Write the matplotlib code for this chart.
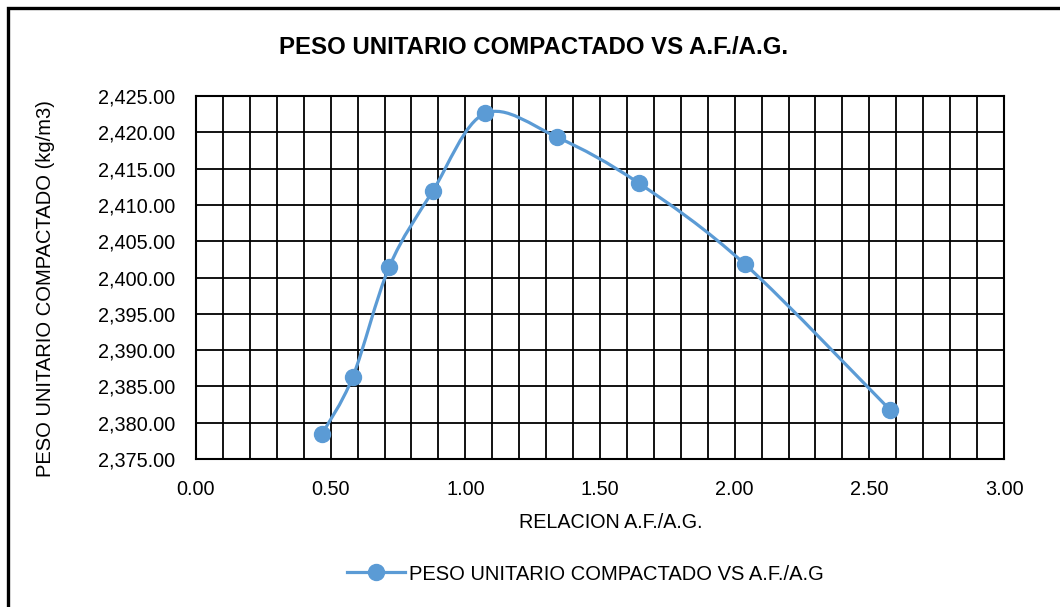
import matplotlib

matplotlib.use("Agg")
import matplotlib.pyplot as plt
from matplotlib.lines import Line2D
from matplotlib.patches import PathPatch, Rectangle
from matplotlib.path import Path
from matplotlib.ticker import FuncFormatter, MultipleLocator
import numpy as np

# ratio of fine to coarse aggregate and compacted unit weight
relacion = [0.467, 0.582, 0.718, 0.879, 1.073, 1.342, 1.644, 2.039, 2.576]
peso_unitario = [2378.4, 2386.3, 2401.5, 2411.9, 2422.6, 2419.3, 2413.0, 2401.8, 2381.8]

title = "PESO UNITARIO COMPACTADO VS A.F./A.G."
xlabel = "RELACION A.F./A.G."
ylabel = "PESO UNITARIO COMPACTADO (kg/m3)"
series_label = "PESO UNITARIO COMPACTADO VS A.F./A.G"

BLUE = "#5B9BD5"
plt.rcParams["font.family"] = ["Liberation Sans", "DejaVu Sans"]


def smooth_path(xs, ys):
    # Excel-style smoothed line: cubic Bezier segments with Catmull-Rom handles
    pts = np.column_stack([xs, ys])
    n = len(pts)
    verts = [pts[0]]
    codes = [Path.MOVETO]
    for i in range(n - 1):
        p_prev = pts[i - 1] if i > 0 else pts[i]
        p_next2 = pts[i + 2] if i + 2 < n else pts[i + 1]
        c1 = pts[i] + (pts[i + 1] - p_prev) / 6.0
        c2 = pts[i + 1] - (p_next2 - pts[i]) / 6.0
        verts += [c1, c2, pts[i + 1]]
        codes += [Path.CURVE4] * 3
    return Path(verts, codes)


fig = plt.figure(figsize=(10.6, 6.07), dpi=100)
ax = fig.add_axes([0.1849, 0.2438, 0.7623, 0.598])

ax.add_patch(PathPatch(smooth_path(relacion, peso_unitario), fill=False,
                       edgecolor=BLUE, linewidth=2.3, zorder=3, capstyle="round"))
ax.plot(relacion, peso_unitario, linestyle="none", marker="o", markersize=11.5,
        color=BLUE, zorder=4)

ax.set_xlim(0, 3)
ax.set_ylim(2375, 2425)
ax.xaxis.set_major_locator(MultipleLocator(0.5))
ax.xaxis.set_minor_locator(MultipleLocator(0.1))
ax.yaxis.set_major_locator(MultipleLocator(5))
ax.xaxis.set_major_formatter(FuncFormatter(lambda v, p: f"{v:.2f}"))
ax.yaxis.set_major_formatter(FuncFormatter(lambda v, p: f"{v:,.2f}"))
ax.grid(True, which="both", axis="x", color="black", linewidth=1.3)
ax.grid(True, which="major", axis="y", color="black", linewidth=1.3)
ax.set_axisbelow(True)
ax.tick_params(which="both", length=0, labelsize=14.3, pad=15)
ax.tick_params(axis="y", pad=15)
for spine in ax.spines.values():
    spine.set_linewidth(1.5)
    spine.set_color("black")

fig.text(0.503, 1 - 47 / 607, title, ha="center", va="center", fontsize=17.3, fontweight="bold")
fig.text(0.576, 1 - 522 / 607, xlabel, ha="center", va="center", fontsize=14.2)
fig.text(0.043, 1 - 289 / 607, ylabel, ha="center", va="center", rotation=90, fontsize=14.5)

handle = Line2D([], [], color=BLUE, linewidth=2.3, marker="o", markersize=11.5)
fig.legend([handle], [series_label], loc="center", bbox_to_anchor=(0.552, 1 - 574 / 607),
           frameon=False, fontsize=14.5, handlelength=2.9, handletextpad=0.2)

fig.patches.append(Rectangle((8 / 1060, -0.05), 1.2, 1.05 - 8 / 607, transform=fig.transFigure,
                             fill=False, edgecolor="black", linewidth=2.4))

fig.savefig("out.png", dpi=100)
